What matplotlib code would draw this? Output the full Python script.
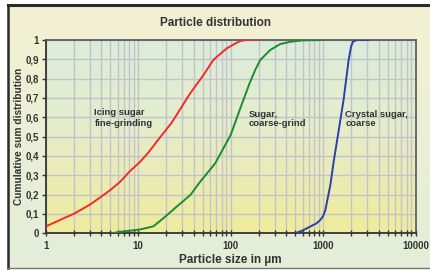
import numpy as np
import matplotlib.pyplot as plt
from matplotlib.colors import LinearSegmentedColormap
from matplotlib.ticker import FixedLocator, NullFormatter, FixedFormatter

# particle size (µm) / cumulative sum
icing_x = [1, 1.3, 1.6, 2, 3, 4, 5, 6.4, 8, 10.5, 13, 15.9, 19.6, 23, 29.6, 36.5, 50.8, 65, 80, 91, 110, 127, 150, 200]
icing_y = [0.035, 0.06, 0.08, 0.10, 0.148, 0.19, 0.224, 0.267, 0.318, 0.37, 0.42, 0.475, 0.53, 0.572, 0.655, 0.724, 0.819, 0.897, 0.935, 0.957, 0.98, 0.995, 1.0, 1.0]

coarse_x = [5.2, 6.4, 8, 10.5, 14.6, 18.7, 26.1, 36.6, 46.8, 68, 100, 127, 160, 184, 209, 267, 343, 440, 600, 1010]
coarse_y = [0.0, 0.008, 0.013, 0.02, 0.036, 0.078, 0.138, 0.198, 0.267, 0.362, 0.509, 0.647, 0.776, 0.845, 0.897, 0.948, 0.979, 0.991, 0.998, 1.0]

crystal_x = [499, 600, 725, 850, 930, 1000, 1055, 1195, 1297, 1446, 1660, 1884, 2000, 2100, 2320, 3100]
crystal_y = [0.0, 0.015, 0.035, 0.052, 0.069, 0.09, 0.12, 0.25, 0.37, 0.51, 0.69, 0.897, 0.965, 0.992, 1.0, 1.0]

y_ticks = [0, 0.1, 0.2, 0.3, 0.4, 0.5, 0.6, 0.7, 0.8, 0.9, 1]
y_labels = ["0", "0,1", "0,2", "0,3", "0,4", "0,5", "0,6", "0,7", "0,8", "0,9", "1"]
x_ticks = [1, 10, 100, 1000, 10000]
x_labels = ["1", "10", "100", "1000", "10000"]

plt.rcParams['font.family'] = ['Liberation Sans', 'DejaVu Sans']
txt = '#333333'

fig = plt.figure(figsize=(4.31, 2.70), dpi=100)
fig.patch.set_facecolor('white')

# outer panel with gradient (cream top -> light green bottom)
bg = fig.add_axes([8 / 431, 2 / 270, 1 - 8 / 431, 1 - 7 / 270], zorder=-5)
outer = LinearSegmentedColormap.from_list('outer', ['#f3f1d3', '#e3edd9'])
bg.imshow(np.linspace(0, 1, 100).reshape(-1, 1), cmap=outer, aspect='auto',
          extent=[0, 1, 0, 1], origin='upper')
bg.set_xlim(0, 1)
bg.set_ylim(0, 1)
bg.set_xticks([])
bg.set_yticks([])
bg.spines['right'].set_visible(False)
bg.spines['top'].set_linewidth(2.2)
bg.spines['top'].set_color('#2b2b2b')
bg.spines['left'].set_linewidth(1.8)
bg.spines['left'].set_color('#2b2b2b')
bg.spines['bottom'].set_linewidth(1.0)
bg.spines['bottom'].set_color('#777777')

ax = fig.add_axes([45.7 / 431, 1 - 233.3 / 270, (415.7 - 45.7) / 431, (233.3 - 40) / 270])
inner = LinearSegmentedColormap.from_list('inner', ['#dcecdc', '#e6ecc8', '#efeb9c'])
ax.imshow(np.linspace(0, 1, 100).reshape(-1, 1), cmap=inner, aspect='auto',
          extent=[1, 10000, 0, 1], origin='upper', zorder=0)

ax.set_xscale('log')
ax.set_xlim(1, 10000)
ax.set_ylim(0, 1)

ax.plot(icing_x, icing_y, color='#f22a2a', lw=1.4, zorder=3)
ax.plot(coarse_x, coarse_y, color='#1e8a30', lw=1.4, zorder=3)
ax.plot(crystal_x, crystal_y, color='#2b40a8', lw=1.4, zorder=3)

minor = [m * 10 ** d for d in range(4) for m in range(2, 10)]
ax.xaxis.set_major_locator(FixedLocator(x_ticks))
ax.xaxis.set_major_formatter(FixedFormatter(x_labels))
ax.xaxis.set_minor_locator(FixedLocator(minor))
ax.xaxis.set_minor_formatter(NullFormatter())
ax.set_yticks(y_ticks)
ax.set_yticklabels(y_labels)

ax.grid(True, which='both', axis='x', color='#c3c3ca', lw=1.0, zorder=1)
ax.grid(True, which='major', axis='y', color='#c3c3ca', lw=1.0, zorder=1)

ax.tick_params(axis='x', which='both', direction='inout', length=5, width=1,
               color='#333333', labelsize=7, labelcolor=txt, pad=3)
ax.tick_params(axis='y', which='both', direction='out', length=3, width=1,
               color='#333333', labelsize=7, labelcolor=txt, pad=2)
for lab in ax.get_xticklabels() + ax.get_yticklabels():
    lab.set_fontweight('bold')

for side in ['top', 'right']:
    ax.spines[side].set_color('#555555')
    ax.spines[side].set_linewidth(1.2)
for side in ['left', 'bottom']:
    ax.spines[side].set_color('#333333')
    ax.spines[side].set_linewidth(1.3)

ax.set_xlabel('Particle size in µm', fontsize=8.5, fontweight='bold', color=txt, labelpad=2)
ax.set_ylabel('Cumulative sum distribution', fontsize=7.3, fontweight='bold', color=txt, labelpad=1)
fig.text(0.5, 1 - 23 / 270, 'Particle distribution', ha='center', va='center',
         fontsize=8.5, fontweight='bold', color=txt)

ax.text(3.36, 0.596, 'Icing sugar\nfine-grinding', fontsize=6.8, fontweight='bold',
        color=txt, ha='left', va='center', linespacing=1.3, zorder=4)
ax.text(156, 0.59, 'Sugar,\ncoarse-grind', fontsize=6.8, fontweight='bold',
        color=txt, ha='left', va='center', linespacing=0.95, zorder=4)
ax.text(1735, 0.59, 'Crystal sugar,\ncoarse', fontsize=6.8, fontweight='bold',
        color=txt, ha='left', va='center', linespacing=0.95, zorder=4)

fig.savefig('out.png', dpi=100)
